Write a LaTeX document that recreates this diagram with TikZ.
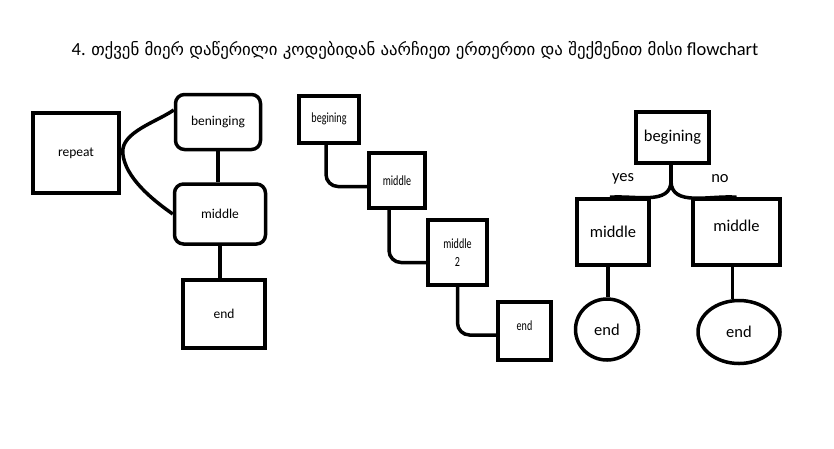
\documentclass[tikz,border=0pt]{standalone}
\usepackage{fontspec}
\setmainfont{Carlito}
\newfontfamily\geofont{DejaVu Sans}
\newfontfamily\narrowfont[FakeStretch=0.72]{Carlito}
\usetikzlibrary{shapes.geometric}

\begin{document}
\begin{tikzpicture}[x=1pt, y=-1pt, line width=3.5pt,
  box/.style={draw, rectangle, inner sep=0pt},
  roundbox/.style={draw, rectangle, rounded corners=9pt, inner sep=0pt},
  endbox/.style={draw, ellipse, inner sep=0pt}]
  \useasboundingbox (0,0) rectangle (834,448);

  % Title
  \node (title) at (415,50) {\fontsize{18.5}{21}\selectfont 4. {\geofont\fontsize{16.8}{21}\selectfont თქვენ მიერ დაწერილი კოდებიდან აარჩიეთ ერთერთი და შექმენით მისი} flowchart};

  % Nodes (first chart)
  \node[box, minimum width=86pt, minimum height=80pt, font=\fontsize{13.5}{15}\selectfont] (rep) at (76,153) {repeat};
  \node[roundbox, minimum width=85pt, minimum height=55pt, font=\fontsize{13.5}{15}\selectfont] (beg) at (218,122) {beninging};
  \node[roundbox, minimum width=91pt, minimum height=60pt, font=\fontsize{13.5}{15}\selectfont] (mid) at (220,214) {middle};
  \node[box, minimum width=82pt, minimum height=68pt, font=\fontsize{13.5}{15}\selectfont] (fin) at (224,314) {end};

  % Edges (first chart)
  \draw ([yshift=12pt]beg.west) to[out=215, in=95, looseness=0.8] ([xshift=2pt]rep.east) to[out=-85, in=145, looseness=0.8] (mid.west);
  \draw (beg.south) -- (beg.south |- mid.north);
  \draw (mid.south) -- (mid.south |- fin.north);

  % Nodes (second chart)
  \node[box, minimum width=60pt, minimum height=47pt, font=\narrowfont\fontsize{14}{15}\selectfont] (b1) at (329,119.5) {\raisebox{4pt}{begining}};
  \node[box, minimum width=56pt, minimum height=55pt, font=\narrowfont\fontsize{14}{15}\selectfont] (m1) at (397,180.5) {middle};
  \node[box, minimum width=59pt, minimum height=65pt, font=\narrowfont\fontsize{14}{15}\selectfont, align=center] (m3) at (457.5,252.5) {middle\\[3pt]2};
  \node[box, minimum width=53pt, minimum height=58pt, font=\narrowfont\fontsize{14}{15}\selectfont] (e1) at (524.5,331) {\raisebox{11pt}{end}};

  % Edges (second chart)
  \draw[rounded corners=12pt] ([xshift=-3pt]b1.south) |- ([yshift=-6pt]m1.west);
  \draw[rounded corners=12pt] ([xshift=-8pt]m1.south) |- ([yshift=-10pt]m3.west);
  \draw[rounded corners=12pt] (m3.south) |- ([yshift=-4pt]e1.west);

  % Nodes (third chart)
  \node[box, minimum width=73pt, minimum height=51pt, font=\fontsize{16.5}{18}\selectfont] (b2) at (672.5,137.5) {begining};
  \node[box, minimum width=72pt, minimum height=66pt, font=\fontsize{16.5}{18}\selectfont] (ml) at (613,232) {middle};
  \node[box, minimum width=87pt, minimum height=66pt, font=\fontsize{16.5}{18}\selectfont] (mr) at (736.5,232) {\raisebox{12pt}{middle}};
  \node[endbox, minimum width=63pt, minimum height=61pt, font=\fontsize{16.5}{18}\selectfont] (el) at (607,329.5) {end};
  \node[endbox, minimum width=82pt, minimum height=63pt, font=\fontsize{16.5}{18}\selectfont] (er) at (739,332) {end};
  \node[font=\fontsize{16.5}{18}\selectfont] (yes) at (623,179) {yes};
  \node[font=\fontsize{16.5}{18}\selectfont] (no) at (720,179) {no};
  \coordinate (fork) at (671,181);

  % Edges (third chart)
  \draw ([xshift=-1.5pt]b2.south) -- (fork);
  \draw (fork) to[out=-90, in=5] ([xshift=-3pt]ml.north);
  \draw (fork) to[out=-90, in=175] ([xshift=0pt]mr.north);
  \draw ([xshift=-5pt]ml.south) -- ([xshift=-5pt]ml.south |- el.north);
  \draw ([xshift=-4pt]mr.south) -- ([xshift=-4pt]mr.south |- er.north);
\end{tikzpicture}
\end{document}
